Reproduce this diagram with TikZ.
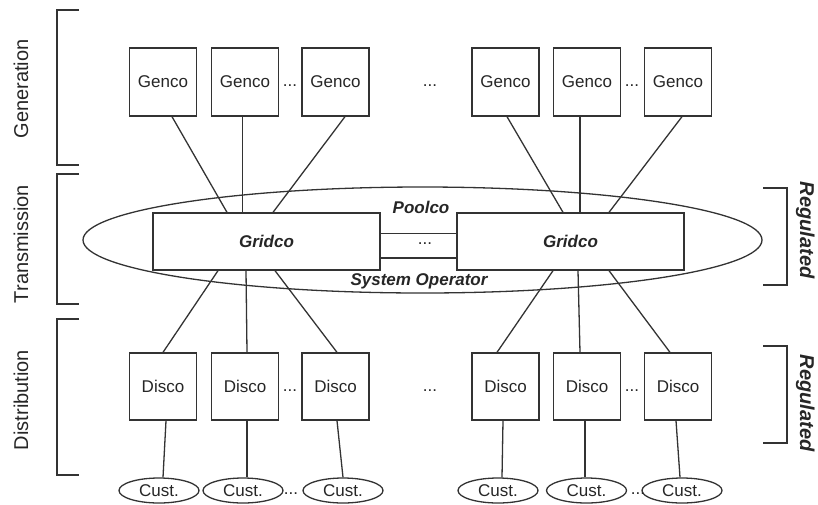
\documentclass[tikz,border=0pt]{standalone}
\usepackage{fontspec}
\setmainfont{Liberation Sans}
\usetikzlibrary{shapes.geometric}
\begin{document}
\begin{tikzpicture}[x=1pt,y=-1pt,
  every node/.style={font=\fontsize{17}{20}\selectfont, text=black!85},
  line/.style={draw=black!80, line width=1.3pt},
  unitbox/.style={line, fill=white, minimum width=67pt, minimum height=68pt, inner sep=0pt},
  gridbox/.style={line, fill=white, minimum width=227pt, minimum height=57pt, inner sep=0pt,
                  font=\fontsize{17}{20}\selectfont\bfseries\itshape},
  custnode/.style={line, fill=white, ellipse, minimum width=80pt, minimum height=25pt, inner sep=0pt},
  sidelabel/.style={font=\fontsize{20}{24}\selectfont, anchor=base, rotate=90},
  reglabel/.style={font=\fontsize{20}{24}\selectfont\bfseries\itshape, anchor=base, rotate=-90},
  dotsnode/.style={inner sep=0pt}
]
\useasboundingbox (0,0) rectangle (818,504);

% pool / system operator ellipse
\draw[line, fill=white] (422.5,240) ellipse [x radius=339.5, y radius=53];

% generation companies
\node[unitbox] (g1) at (163,82) {Genco};
\node[unitbox] (g2) at (245,82) {Genco};
\node[unitbox] (g3) at (335.5,82) {Genco};
\node[unitbox] (g4) at (505.5,82) {Genco};
\node[unitbox] (g5) at (587,82) {Genco};
\node[unitbox] (g6) at (678,82) {Genco};
\node[dotsnode] (gd1) at (290,86) {...};
\node[dotsnode] (gd2) at (430,86) {...};
\node[dotsnode] (gd3) at (632,86) {...};

% grid companies
\node[gridbox] (gl) at (266.5,241.5) {Gridco};
\node[gridbox] (gr) at (570.5,241.5) {Gridco};
\draw[line] (gl.east |- 0,233.5) -- (gr.west |- 0,233.5);
\draw[line] (gl.east |- 0,258) -- (gr.west |- 0,258);
\node[dotsnode] (md) at (425,244) {...};
\node[font=\fontsize{17}{20}\selectfont\bfseries\itshape] (pool) at (421,207) {Poolco};
\node[font=\fontsize{17}{20}\selectfont\bfseries\itshape] (sysop) at (419,281) {System Operator};

% distribution companies
\node[unitbox, minimum height=67pt] (d1) at (163,386.5) {Disco};
\node[unitbox, minimum height=67pt] (d2) at (245,386.5) {Disco};
\node[unitbox, minimum height=67pt] (d3) at (335.5,386.5) {Disco};
\node[unitbox, minimum height=67pt] (d4) at (505.5,386.5) {Disco};
\node[unitbox, minimum height=67pt] (d5) at (587,386.5) {Disco};
\node[unitbox, minimum height=67pt] (d6) at (678,386.5) {Disco};
\node[dotsnode] (dd1) at (290,391) {...};
\node[dotsnode] (dd2) at (430,391) {...};
\node[dotsnode] (dd3) at (632,391) {...};

% customers
\node[custnode] (c1) at (159,490.5) {Cust.};
\node[custnode] (c2) at (243,490.5) {Cust.};
\node[custnode] (c3) at (343,490.5) {Cust.};
\node[custnode] (c4) at (498,490.5) {Cust.};
\node[custnode] (c5) at (586.5,490.5) {Cust.};
\node[custnode] (c6) at (682,490.5) {Cust.};
\node[dotsnode] (cd1) at (291,494) {...};
\node[dotsnode] (cd2) at (638,494) {...};

% gencos to gridcos
\draw[line] ([xshift=9pt]g1.south) -- ([xshift=-39.5pt]gl.north);
\draw[line] ([xshift=-2.5pt]g2.south) -- ([xshift=-24pt]gl.north);
\draw[line] ([xshift=9.5pt]g3.south) -- ([xshift=6.5pt]gl.north);
\draw[line] ([xshift=1.5pt]g4.south) -- ([xshift=-7.5pt]gr.north);
\draw[line] ([xshift=-7pt]g5.south) -- ([xshift=9.5pt]gr.north);
\draw[line] ([xshift=4pt]g6.south) -- ([xshift=38.5pt]gr.north);

% gridcos to discos
\draw[line] ([xshift=-48.5pt]gl.south) -- (d1.north);
\draw[line] ([xshift=-20.5pt]gl.south) -- ([xshift=2pt]d2.north);
\draw[line] ([xshift=8.5pt]gl.south) -- ([xshift=1.5pt]d3.north);
\draw[line] ([xshift=-17.5pt]gr.south) -- ([xshift=-8.5pt]d4.north);
\draw[line] ([xshift=7.5pt]gr.south) -- ([xshift=-7pt]d5.north);
\draw[line] ([xshift=38.5pt]gr.south) -- ([xshift=-8pt]d6.north);

% discos to customers
\draw[line] ([xshift=3pt]d1.south) -- ([xshift=4pt]c1.north);
\draw[line] ([xshift=2pt]d2.south) -- ([xshift=4pt]c2.north);
\draw[line] ([xshift=1.5pt]d3.south) -- (c3.north);
\draw[line] ([xshift=-2.5pt]d4.south) -- ([xshift=4pt]c4.north);
\draw[line] ([xshift=-2pt]d5.south) -- ([xshift=-1.5pt]c5.north);
\draw[line] ([xshift=-2pt]d6.south) -- ([xshift=-2pt]c6.north);

% sector brackets
\draw[line] (79,10) -- (57,10) -- (57,165) -- (79,165);
\draw[line] (79,174) -- (57,174) -- (57,304) -- (79,304);
\draw[line] (79,319) -- (57,319) -- (57,475) -- (79,475);
\node[sidelabel] (lgen) at (28,89) {Generation};
\node[sidelabel] (ltr) at (28,244) {Transmission};
\node[sidelabel] (ldi) at (28,400) {Distribution};

% regulated brackets
\draw[line] (763,188) -- (787,188) -- (787,285) -- (763,285);
\draw[line] (763,346) -- (787,346) -- (787,443) -- (763,443);
\node[reglabel] (reg1) at (800,230) {Regulated};
\node[reglabel] (reg2) at (800,403) {Regulated};
\end{tikzpicture}
\end{document}
